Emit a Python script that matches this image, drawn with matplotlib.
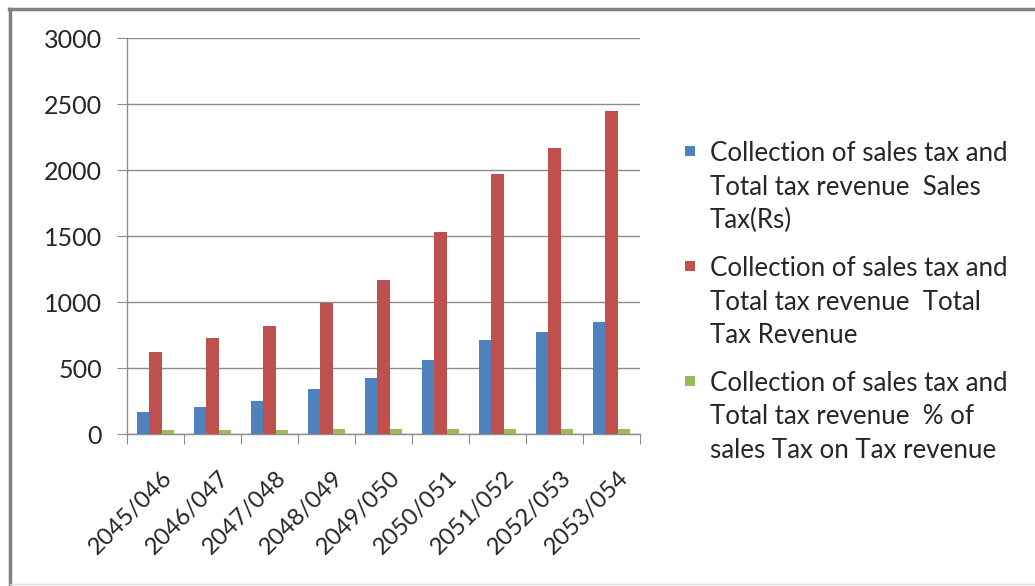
import matplotlib
matplotlib.use("Agg")
import matplotlib.pyplot as plt
import numpy as np
from matplotlib.patches import Rectangle
from matplotlib.lines import Line2D
from matplotlib.transforms import ScaledTranslation

categories = ["2045/046", "2046/047", "2047/048", "2048/049", "2049/050",
              "2050/051", "2051/052", "2052/053", "2053/054"]
sales_tax = [170, 203, 251, 342, 424, 563, 710, 771, 850]
total_tax_revenue = [622, 730, 820, 990, 1165, 1530, 1970, 2165, 2445]
pct_sales_tax = [27, 28, 31, 35, 36, 37, 36, 36, 35]

series_labels = [
    ["Collection of sales tax and", "Total tax revenue  Sales", "Tax(Rs)"],
    ["Collection of sales tax and", "Total tax revenue  Total", "Tax Revenue"],
    ["Collection of sales tax and", "Total tax revenue  % of", "sales Tax on Tax revenue"],
]
colors = ["#4F81BD", "#C0504D", "#9BBB59"]
y_ticks = [0, 500, 1000, 1500, 2000, 2500, 3000]

FAMILY = ['Lato', 'DejaVu Sans']
plt.rcParams['font.family'] = FAMILY
TEXT_COLOR = "#262626"

W, H = 1035, 586
fig = plt.figure(figsize=(W / 100, H / 100), dpi=100)
fig.patch.set_facecolor("white")
renderer = fig.canvas.get_renderer()


def fit_size(s, target_px):
    t = fig.text(0, 0, s, fontsize=10)
    w = t.get_window_extent(renderer=renderer).width
    t.remove()
    return 10 * target_px / w


ytick_fs = fit_size("3000", 58)
xtick_fs = fit_size("2046/047", 108)
leg_fs = fit_size("Collection of sales tax and", 298)

left, right, top, bottom = 127, 640, 38, 434
ax = fig.add_axes([left / W, 1 - bottom / H, (right - left) / W, (bottom - top) / H])

x = np.arange(len(categories))
bw = 0.222
for i, (vals, c) in enumerate(zip([sales_tax, total_tax_revenue, pct_sales_tax], colors)):
    ax.bar(x + (i - 1) * bw, vals, width=bw, color=c, zorder=3)

ax.set_xlim(-0.5, len(categories) - 0.5)
ax.set_ylim(0, 3000)
ax.set_yticks(y_ticks)
ax.set_yticklabels([str(v) for v in y_ticks], fontsize=ytick_fs, color=TEXT_COLOR)
ax.yaxis.grid(True, color="#8c8c8c", linewidth=1.0, zorder=0)
ax.set_axisbelow(True)

ax.set_xticks(np.arange(-0.5, len(categories), 1.0))
ax.set_xticklabels([])
ax.set_xticks(x, minor=True)
ax.set_xticklabels(categories, minor=True, rotation=45, ha="right",
                   rotation_mode="anchor", fontsize=xtick_fs, color=TEXT_COLOR)
ax.tick_params(axis="x", which="minor", length=0, pad=24)
ax.tick_params(axis="x", which="major", length=7, color="#8c8c8c", direction="out")
ax.tick_params(axis="y", length=7, color="#8c8c8c", direction="out", pad=11)
shift = ScaledTranslation(6 / 100, 0, fig.dpi_scale_trans)
for lab in ax.get_xticklabels(minor=True):
    lab.set_transform(lab.get_transform() + shift)

for s in ["top", "right"]:
    ax.spines[s].set_visible(False)
for s in ["left", "bottom"]:
    ax.spines[s].set_color("#8c8c8c")
    ax.spines[s].set_linewidth(1.0)

# legend drawn manually (square marker + three text lines per entry)
first_line_y = [151, 266, 381]
line_step = 33.5
for lines, c, y0 in zip(series_labels, colors, first_line_y):
    fig.add_artist(Rectangle((685 / W, 1 - (y0 + 5) / H), 10 / W, 10 / H,
                             transform=fig.transFigure, facecolor=c, edgecolor="none"))
    for k, line in enumerate(lines):
        fig.text(710 / W, 1 - (y0 + k * line_step) / H, line, fontsize=leg_fs,
                 color=TEXT_COLOR, ha="left", va="center_baseline")

# outer border
fig.add_artist(Line2D([9 / W, 1.0], [1 - 8.5 / H, 1 - 8.5 / H], color="#7f7f7f", linewidth=2.5))
fig.add_artist(Line2D([10 / W, 10 / W], [1 - 8.5 / H, 1 - 584 / H], color="#7f7f7f", linewidth=2.5))
fig.add_artist(Line2D([10 / W, 1.0], [1 - 584 / H, 1 - 584 / H], color="#e0e0e0", linewidth=1))

fig.savefig("out.png", dpi=100, facecolor="white")
